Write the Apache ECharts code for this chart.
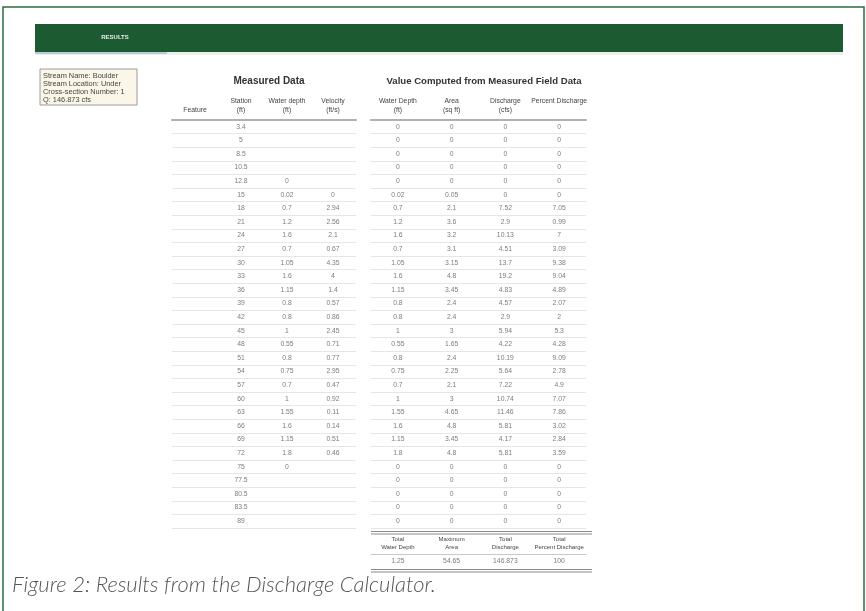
<!DOCTYPE html>
<html><head><meta charset="utf-8">
<script src="https://cdn.jsdelivr.net/npm/echarts@6/dist/echarts.min.js"></script>
<style>html,body{margin:0;padding:0;background:#fff}#c{width:866px;height:611px}</style>
</head><body><div id="c"></div>
<script>
// ---------- data ----------
const rowIds = Array.from({length: 30}, (_, i) => String(i + 1));
const tabLabel = 'RESULTS';
const infoLines = ['Stream Name: Boulder', 'Stream Location: Under', 'Cross-section Number: 1', 'Q: 146.873 cfs'];
const leftTitle = 'Measured Data';
const rightTitle = 'Value Computed from Measured Field Data';
const caption = 'Figure 2: Results from the Discharge Calculator.';
const leftHeaders = ['Feature', 'Station\n(ft)', 'Water depth\n(ft)', 'Velocity\n(ft/s)'];
const rightHeaders = ['Water Depth\n(ft)', 'Area\n(sq ft)', 'Discharge\n(cfs)', 'Percent Discharge\n '];
const summaryHeaders = ['Total\nWater Depth', 'Maximum\nArea', 'Total\nDischarge', 'Total\nPercent Discharge'];

const feature = ['', '', '', '', '', '', '', '', '', '', '', '', '', '', '', '', '', '', '', '', '', '', '', '', '', '', '', '', '', ''];
const station = ['3.4', '5', '8.5', '10.5', '12.8', '15', '18', '21', '24', '27', '30', '33', '36', '39', '42', '45', '48', '51', '54', '57', '60', '63', '66', '69', '72', '75', '77.5', '80.5', '83.5', '89'];
const measuredDepth = ['', '', '', '', '0', '0.02', '0.7', '1.2', '1.6', '0.7', '1.05', '1.6', '1.15', '0.8', '0.8', '1', '0.55', '0.8', '0.75', '0.7', '1', '1.55', '1.6', '1.15', '1.8', '0', '', '', '', ''];
const velocity = ['', '', '', '', '', '0', '2.94', '2.56', '2.1', '0.67', '4.35', '4', '1.4', '0.57', '0.86', '2.45', '0.71', '0.77', '2.95', '0.47', '0.92', '0.11', '0.14', '0.51', '0.46', '', '', '', '', ''];

const compDepth = ['0', '0', '0', '0', '0', '0.02', '0.7', '1.2', '1.6', '0.7', '1.05', '1.6', '1.15', '0.8', '0.8', '1', '0.55', '0.8', '0.75', '0.7', '1', '1.55', '1.6', '1.15', '1.8', '0', '0', '0', '0', '0'];
const area = ['0', '0', '0', '0', '0', '0.05', '2.1', '3.6', '3.2', '3.1', '3.15', '4.8', '3.45', '2.4', '2.4', '3', '1.65', '2.4', '2.25', '2.1', '3', '4.65', '4.8', '3.45', '4.8', '0', '0', '0', '0', '0'];
const discharge = ['0', '0', '0', '0', '0', '0', '7.52', '2.9', '10.13', '4.51', '13.7', '19.2', '4.83', '4.57', '2.9', '5.94', '4.22', '10.19', '5.64', '7.22', '10.74', '11.46', '5.81', '4.17', '5.81', '0', '0', '0', '0', '0'];
const percentDischarge = ['0', '0', '0', '0', '0', '0', '7.05', '0.99', '7', '3.09', '9.38', '9.04', '4.89', '2.07', '2', '5.3', '4.28', '9.09', '2.78', '4.9', '7.07', '7.86', '3.02', '2.84', '3.59', '0', '0', '0', '0', '0'];
const totals = ['1.25', '54.65', '146.873', '100'];

// ---------- build ----------
function cells(cols) {
  const out = [];
  cols.forEach((col, c) => col.forEach((v, r) => { if (v !== '') out.push({value: [c, r], t: v}); }));
  return out;
}
const cellFont = {fontSize: 6.8, color: '#5a5a5a', fontFamily: 'Liberation Sans', textBorderWidth: 0, textShadowBlur: 0};
const headFont = {fontSize: 6.8, color: '#444', fontFamily: 'Liberation Sans', lineHeight: 8.5};

function tableAxes(gi, headers) {
  return {
    x: {type: 'category', gridIndex: gi, data: headers, position: 'top',
        axisLine: {show: true, lineStyle: {color: '#b0b0b0', width: 2}},
        axisTick: {show: false}, splitLine: {show: false},
        axisLabel: Object.assign({interval: 0, margin: 6}, headFont)},
    y: {type: 'category', gridIndex: gi, data: rowIds, inverse: true,
        axisLine: {show: false}, axisTick: {show: false}, axisLabel: {show: false},
        splitLine: {show: true, interval: 0, lineStyle: {color: '#e6e6e6', width: 1}}}
  };
}
const L = tableAxes(0, leftHeaders), R = tableAxes(1, rightHeaders);
const S = {
  x: {type: 'category', gridIndex: 2, data: summaryHeaders, position: 'top',
      axisLine: {show: true, lineStyle: {color: '#c8c8c8', width: 1}},
      axisTick: {show: false}, axisLabel: Object.assign({interval: 0, margin: 3}, headFont, {fontSize: 6, lineHeight: 7.5})},
  y: {type: 'category', gridIndex: 2, data: ['total'], axisLine: {show: false}, axisTick: {show: false}, axisLabel: {show: false}}
};

function tableSeries(xi, cols) {
  return {type: 'scatter', xAxisIndex: xi, yAxisIndex: xi, symbolSize: 1, silent: true,
    itemStyle: {color: 'rgba(255,255,255,0)'},
    label: Object.assign({show: true, position: 'inside', formatter: p => p.data.t}, cellFont),
    emphasis: {disabled: true},
    data: cells(cols)};
}

const chart = echarts.init(document.getElementById('c'));
chart.setOption({
  animation: false,
  backgroundColor: '#fff',
  grid: [
    {left: 172, top: 120, width: 184, height: 408},
    {left: 371, top: 120, width: 215, height: 408},
    {left: 371, top: 554, width: 215, height: 15}
  ],
  xAxis: [L.x, R.x, S.x],
  yAxis: [L.y, R.y, S.y],
  series: [
    tableSeries(0, [feature, station, measuredDepth, velocity]),
    tableSeries(1, [compDepth, area, discharge, percentDischarge]),
    tableSeries(2, totals.map(v => [v]))
  ],
  graphic: [
    {type: 'rect', shape: {x: 3, y: 7, width: 861, height: 620}, style: {fill: 'none', stroke: '#2b6b3c', lineWidth: 1.5}, silent: true},
    {type: 'rect', shape: {x: 35, y: 24, width: 808, height: 28}, style: {fill: '#1c5a32'}, silent: true},
    {type: 'rect', shape: {x: 35, y: 52, width: 808, height: 3}, style: {fill: '#e9efeb'}, silent: true},
    {type: 'rect', shape: {x: 35, y: 52, width: 132, height: 2}, style: {fill: '#b8ccd6'}, silent: true},
    {type: 'text', x: 115, y: 37, style: {text: tabLabel, fill: '#e8f0ea', font: 'bold 6px "Liberation Sans"', textAlign: 'center', textVerticalAlign: 'middle'}, silent: true},
    {type: 'rect', shape: {x: 40, y: 69, width: 97, height: 36}, style: {fill: '#fbf7e8', stroke: '#9a9a9a', lineWidth: 1}, silent: true},
    {type: 'text', x: 43, y: 71.5, style: {text: infoLines.join('\n'), fill: '#444', font: '7.4px "Liberation Sans"', lineHeight: 8.2}, silent: true},
    {type: 'text', x: 269, y: 81, style: {text: leftTitle, fill: '#333', font: 'bold 10px "Liberation Sans"', textAlign: 'center', textVerticalAlign: 'middle'}, silent: true},
    {type: 'text', x: 484, y: 81, style: {text: rightTitle, fill: '#333', font: 'bold 9.6px "Liberation Sans"', textAlign: 'center', textVerticalAlign: 'middle'}, silent: true},
    {type: 'line', shape: {x1: 371, y1: 531.5, x2: 592, y2: 531.5}, style: {stroke: '#8a8a8a', lineWidth: 1}, silent: true},
    {type: 'line', shape: {x1: 371, y1: 534, x2: 592, y2: 534}, style: {stroke: '#8a8a8a', lineWidth: 1}, silent: true},
    {type: 'line', shape: {x1: 371, y1: 569.5, x2: 592, y2: 569.5}, style: {stroke: '#8a8a8a', lineWidth: 1}, silent: true},
    {type: 'line', shape: {x1: 371, y1: 572, x2: 592, y2: 572}, style: {stroke: '#8a8a8a', lineWidth: 1}, silent: true},
    {type: 'text', x: 12, y: 585, style: {text: caption, fill: '#555', font: 'italic 300 22px Lato', textVerticalAlign: 'middle'}, silent: true}
  ]
});
</script></body></html>
